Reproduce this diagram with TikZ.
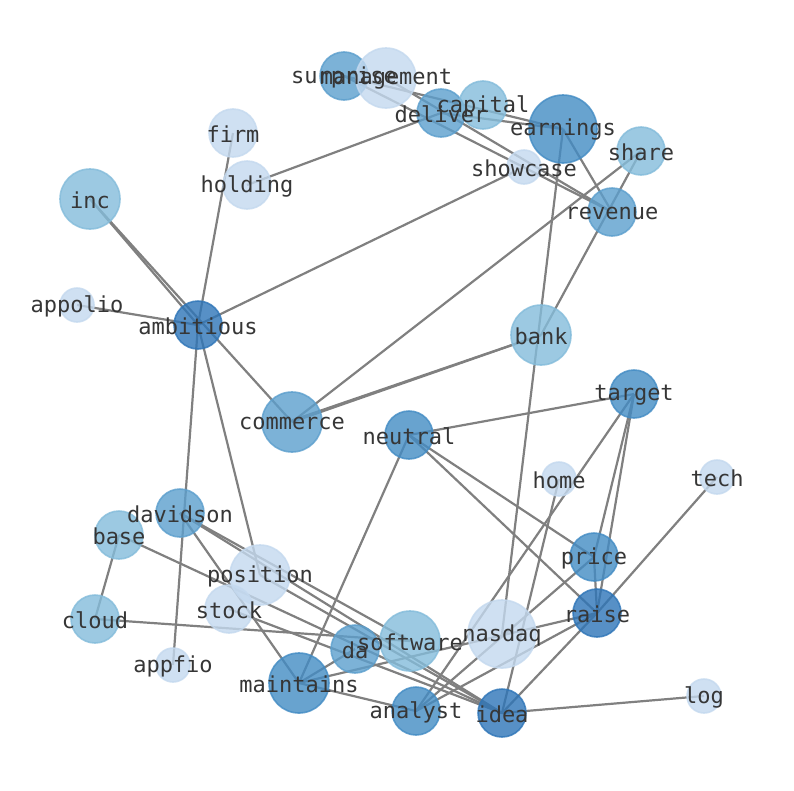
\documentclass[tikz,border=0pt]{standalone}
\usepackage{fontspec}
\newfontfamily\lblfont{DejaVu Sans Mono}
\pgfdeclarelayer{bg}
\pgfsetlayers{bg,main}
\definecolor{cA}{HTML}{C4D9EF}
\definecolor{cB}{HTML}{84BCDB}
\definecolor{cC}{HTML}{5C9FCD}
\definecolor{cD}{HTML}{438CC4}
\definecolor{cE}{HTML}{2E75B8}
\definecolor{edgec}{HTML}{808080}
\definecolor{txtc}{HTML}{363636}
\tikzset{
  vert/.style 2 args={circle, inner sep=0pt, minimum size=#1, fill=#2, draw=#2,
    fill opacity=0.8, draw opacity=0.8, line width=1.6pt},
  lbl/.style={inner sep=0pt, text=txtc, font=\lblfont\fontsize{22}{22}\selectfont},
  conn/.style={draw=edgec, line width=2.2pt}
}
\begin{document}
\begin{tikzpicture}[x=1pt,y=-1pt]
\useasboundingbox (0,0) rectangle (794,790);
% vertices
\node[vert={48}{cC}] (surprise) at (344,76) {};
\node[vert={60}{cA}] (management) at (386,78) {};
\node[vert={48}{cC}] (deliver) at (441,113) {};
\node[vert={48}{cB}] (capital) at (483,105) {};
\node[vert={68}{cD}] (earnings) at (563,129) {};
\node[vert={34}{cA}] (showcase) at (524,167) {};
\node[vert={48}{cB}] (share) at (641,151) {};
\node[vert={48}{cC}] (revenue) at (612,212) {};
\node[vert={48}{cA}] (firm) at (233,133) {};
\node[vert={48}{cA}] (holding) at (247,185) {};
\node[vert={60}{cB}] (inc) at (90,199) {};
\node[vert={34}{cA}] (appolio) at (77,305) {};
\node[vert={48}{cE}] (ambitious) at (198,325) {};
\node[vert={60}{cB}] (bank) at (541,335) {};
\node[vert={60}{cC}] (commerce) at (292,422) {};
\node[vert={48}{cD}] (target) at (634,394) {};
\node[vert={48}{cD}] (neutral) at (409,435) {};
\node[vert={34}{cA}] (home) at (559,479) {};
\node[vert={34}{cA}] (tech) at (717,477) {};
\node[vert={48}{cC}] (davidson) at (180,513) {};
\node[vert={48}{cB}] (base) at (119,535) {};
\node[vert={60}{cA}] (position) at (260,575) {};
\node[vert={48}{cA}] (stock) at (229,609) {};
\node[vert={48}{cB}] (cloud) at (95,619) {};
\node[vert={48}{cD}] (price) at (594,557) {};
\node[vert={48}{cE}] (raise) at (597,613) {};
\node[vert={60}{cB}] (software) at (410,641) {};
\node[vert={68}{cA}] (nasdaq) at (502,634) {};
\node[vert={48}{cC}] (da) at (355,649) {};
\node[vert={34}{cA}] (appfio) at (173,665) {};
\node[vert={60}{cD}] (maintains) at (299,683) {};
\node[vert={48}{cD}] (analyst) at (416,711) {};
\node[vert={48}{cE}] (idea) at (502,713) {};
\node[vert={34}{cA}] (log) at (704,696) {};
% connectors
\begin{pgfonlayer}{bg}
\fill[white] (0,0) rectangle (794,790);
\foreach \a/\b in {surprise/earnings, surprise/revenue, management/revenue,
  deliver/earnings, holding/deliver, earnings/revenue, earnings/nasdaq,
  share/bank, commerce/share, commerce/bank, showcase/ambitious,
  firm/ambitious, inc/ambitious, inc/commerce, appolio/ambitious,
  ambitious/appfio, ambitious/position, neutral/target, neutral/price,
  neutral/raise, neutral/maintains, target/price, target/raise,
  target/analyst, price/raise, price/analyst, raise/analyst, raise/idea,
  raise/tech, raise/maintains, home/idea, idea/log, davidson/idea,
  davidson/software, davidson/maintains, position/idea, base/idea,
  stock/idea, base/cloud, cloud/software, maintains/da, maintains/analyst}
  \draw[conn] (\a.center) -- (\b.center);
\draw[conn] ([yshift=1.6pt]commerce.center) -- (bank.center);
\end{pgfonlayer}
% labels
\foreach \n in {surprise, management, deliver, capital, earnings, showcase,
  share, revenue, firm, holding, inc, appolio, ambitious, bank, commerce,
  target, neutral, home, tech, davidson, base, position, stock, cloud,
  price, raise, software, nasdaq, da, appfio, maintains, analyst, idea, log}
  \node[lbl] (t-\n) at ([yshift=-1pt]\n.center) {\n};
\end{tikzpicture}
\end{document}
